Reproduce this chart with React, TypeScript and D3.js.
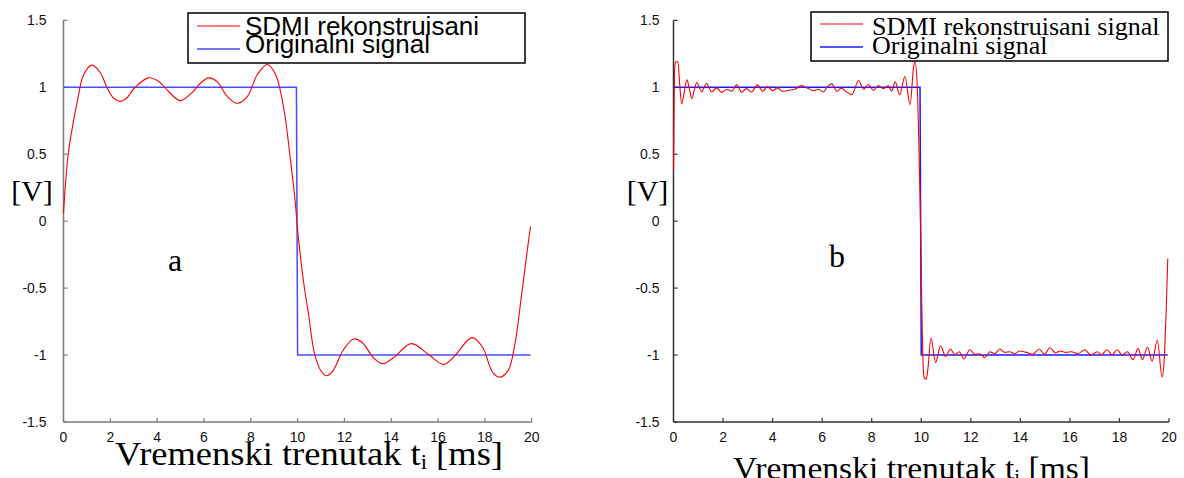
import React from "react";
import * as d3 from "d3";

// ---- data -------------------------------------------------------------
const xTicks = [0, 2, 4, 6, 8, 10, 12, 14, 16, 18, 20];
const yTicks = [-1.5, -1, -0.5, 0, 0.5, 1, 1.5];

// ideal square wave (time in ms, amplitude in V)
const originalSignal: [number, number][] = [
  [0, 1], [9.95, 1], [10, -1], [19.95, -1],
];

// panel a: reconstruction with few coefficients
const reconstructedA: [number, number][] = [
  [0, 0.06], [0.2, 0.5], [0.42, 0.74], [0.63, 0.93], [0.85, 1.09], [1.21, 1.165],
  [1.57, 1.11], [1.85, 1.0], [2.13, 0.92], [2.42, 0.895], [2.7, 0.92], [3.06, 1.0],
  [3.63, 1.07], [4.06, 1.045], [4.42, 0.98], [4.99, 0.9], [5.49, 0.96], [5.85, 1.03],
  [6.21, 1.07], [6.57, 1.04], [7.0, 0.93], [7.43, 0.88], [7.85, 0.93], [8.28, 1.095],
  [8.71, 1.17], [9.06, 1.095], [9.42, 0.83], [9.68, 0.48], [9.89, 0.16], [10.0, -0.065],
  [10.26, -0.46], [10.48, -0.71], [10.71, -0.98], [10.97, -1.11], [11.23, -1.155],
  [11.5, -1.12], [11.96, -0.96], [12.4, -0.88], [12.78, -0.91], [13.24, -1.02],
  [13.63, -1.065], [14.1, -1.02], [14.86, -0.915], [15.62, -1.0], [16.23, -1.07],
  [16.69, -1.01], [17.45, -0.87], [17.9, -0.94], [18.3, -1.12], [18.6, -1.165],
  [18.98, -1.12], [19.29, -0.91], [19.56, -0.56], [19.87, -0.14], [19.95, -0.04],
];

// panel b: reconstruction with many coefficients
const reconstructedB: [number, number][] = [
  [0, 0.38], [0.04, 1.1], [0.08, 1.19], [0.18, 1.19], [0.24, 1.05], [0.33, 0.875],
  [0.43, 0.96], [0.54, 1.055], [0.64, 0.99], [0.74, 0.915], [0.84, 0.98], [0.94, 1.035],
  [1.04, 1.0], [1.14, 0.965], [1.24, 1.0], [1.34, 1.03], [1.44, 0.995], [1.54, 0.965],
  [1.74, 0.995], [1.94, 0.962], [2.15, 0.985], [2.35, 0.97], [2.55, 1.018], [2.75, 0.962],
  [2.95, 0.99], [3.15, 0.965], [3.39, 1.018], [3.6, 0.97], [3.8, 1.005], [4.0, 0.975],
  [4.2, 0.995], [4.4, 0.97], [4.65, 0.977], [4.9, 0.985], [5.17, 1.012], [5.44, 0.99],
  [5.64, 0.975], [5.85, 0.985], [6.05, 0.965], [6.18, 0.995], [6.39, 1.025], [6.59, 0.97],
  [6.78, 0.995], [6.95, 0.97], [7.2, 0.945], [7.47, 1.05], [7.67, 0.985], [7.87, 1.02],
  [8.07, 0.977], [8.27, 1.012], [8.47, 0.99], [8.67, 1.012], [8.8, 0.97], [8.95, 1.04],
  [9.13, 0.945], [9.34, 1.08], [9.55, 0.87], [9.69, 1.15], [9.75, 1.19], [9.84, 1.0],
  [9.9, 0.6], [9.96, 0.1], [10.02, -0.6], [10.08, -1.1], [10.12, -1.17], [10.2, -1.18],
  [10.27, -1.1], [10.39, -0.873], [10.58, -1.055], [10.78, -0.93], [10.98, -1.01],
  [11.18, -0.955], [11.36, -0.998], [11.53, -0.975], [11.72, -1.03], [11.96, -0.96],
  [12.16, -0.995], [12.36, -0.99], [12.56, -1.02], [12.77, -0.975], [12.97, -0.99],
  [13.17, -0.955], [13.37, -0.98], [13.57, -0.975], [13.77, -0.99], [13.97, -0.97],
  [14.24, -0.98], [14.5, -0.995], [14.77, -0.955], [14.97, -0.995], [15.2, -0.945],
  [15.42, -0.985], [15.6, -0.97], [15.84, -0.98], [16.06, -0.975], [16.33, -0.99],
  [16.6, -0.96], [16.84, -1.0], [17.11, -0.975], [17.27, -1.0], [17.5, -0.96],
  [17.7, -1.0], [17.91, -0.96], [18.1, -1.0], [18.32, -0.975], [18.55, -1.035],
  [18.75, -0.95], [18.93, -1.035], [19.13, -0.94], [19.32, -1.045], [19.53, -0.89],
  [19.72, -1.165], [19.8, -1.05], [19.88, -0.7], [19.95, -0.28],
];

const legendLabelsA = ["SDMI rekonstruisani", "Originalni signal"];
const legendLabelsB = ["SDMI rekonstruisani signal", "Originalni signal"];

// ---- layout -----------------------------------------------------------
const W = 1184;
const H = 478;
const SANS = "'Liberation Sans', Arial, Helvetica, sans-serif";
const SERIF = "'Liberation Serif', 'Times New Roman', Times, serif";

type PanelProps = {
  xRange: [number, number];
  yRange: [number, number];
  recon: [number, number][];
  reconCurve: d3.CurveFactory;
  axisColor: string;
  blue: string;
  yLabelOffset: number;
  legend: { x0: number; y0: number; x1: number; y1: number; font: string; labels: string[]; textX: number; base: [number, number]; lineY: [number, number] };
  vLabel: { x: number; y: number };
  letter: { text: string; x: number; y: number; size: number };
  title: { x: number; y: number; size: number; length: number };
};

function Panel(p: PanelProps) {
  const x = d3.scaleLinear().domain([0, 20]).range(p.xRange);
  const y = d3.scaleLinear().domain([-1.5, 1.5]).range(p.yRange);
  const line = d3.line<[number, number]>().x((d) => x(d[0])).y((d) => y(d[1]));
  const reconPath = d3
    .line<[number, number]>()
    .x((d) => x(d[0]))
    .y((d) => y(d[1]))
    .curve(p.reconCurve)(p.recon) as string;
  const x0 = x(0);
  const yb = y(-1.5);
  const lg = p.legend;
  const lineX0 = lg.x0 + 9;
  const lineX1 = lg.x0 + 52;
  return (
    <g>
      {/* axes */}
      <line x1={x0} x2={x0} y1={y(1.5)} y2={yb} stroke={p.axisColor} strokeWidth={1.5} />
      <line x1={x0} x2={x(20)} y1={yb} y2={yb} stroke={p.axisColor} strokeWidth={1.5} />
      {yTicks.map((t) => (
        <g key={"y" + t}>
          <line x1={x0} x2={x0 + 4} y1={y(t)} y2={y(t)} stroke={p.axisColor} strokeWidth={1.2} />
          <text x={x0 - p.yLabelOffset} y={y(t)} dy="0.35em" textAnchor="end" fontFamily={SANS} fontSize={14} fill="#111">
            {String(t)}
          </text>
        </g>
      ))}
      {xTicks.map((t) => (
        <g key={"x" + t}>
          <line x1={x(t)} x2={x(t)} y1={yb} y2={yb - 4} stroke={p.axisColor} strokeWidth={1.2} />
          <text x={x(t)} y={yb + 15} dy="0.35em" textAnchor="middle" fontFamily={SANS} fontSize={14} fill="#111">
            {String(t)}
          </text>
        </g>
      ))}

      {/* signals */}
      <path d={line(originalSignal) as string} fill="none" stroke={p.blue} strokeWidth={1.5} />
      <path d={reconPath} fill="none" stroke="#ff0000" strokeWidth={1.1} />

      {/* legend */}
      <rect x={lg.x0} y={lg.y0} width={lg.x1 - lg.x0} height={lg.y1 - lg.y0} fill="#fff" stroke="#000" strokeWidth={1.5} />
      <line x1={lineX0} x2={lineX1} y1={lg.lineY[0]} y2={lg.lineY[0]} stroke="#ff0000" strokeWidth={1.1} />
      <line x1={lineX0} x2={lineX1} y1={lg.lineY[1]} y2={lg.lineY[1]} stroke={p.blue} strokeWidth={1.5} />
      <text x={lg.textX} y={lg.base[0]} fontFamily={lg.font} fontSize={26} fill="#000">{lg.labels[0]}</text>
      <text x={lg.textX} y={lg.base[1]} fontFamily={lg.font} fontSize={26} fill="#000">{lg.labels[1]}</text>

      {/* labels */}
      <text x={p.vLabel.x} y={p.vLabel.y} textAnchor="middle" fontFamily={SERIF} fontSize={30} fill="#000">[V]</text>
      <text x={p.letter.x} y={p.letter.y} textAnchor="middle" fontFamily={SERIF} fontSize={p.letter.size} fill="#000">{p.letter.text}</text>
      <text
        x={p.title.x}
        y={p.title.y}
        fontFamily={SERIF}
        fontSize={p.title.size}
        fill="#000"
        textLength={p.title.length}
        lengthAdjust="spacingAndGlyphs"
      >
        Vremenski trenutak t<tspan fontSize="0.62em" dy="4">i</tspan><tspan dy="-4"> [ms]</tspan>
      </text>
    </g>
  );
}

export default function App() {
  return (
    <svg width={W} height={H} viewBox={`0 0 ${W} ${H}`} style={{ position: "absolute", left: 0, top: 0, background: "#fff" }}>
      <rect width={W} height={H} fill="#fff" />
      <Panel
        xRange={[63.5, 531.7]}
        yRange={[422, 20.3]}
        recon={reconstructedA}
        reconCurve={d3.curveCatmullRom}
        axisColor="#7a7a7a"
        blue="#4a4aff"
        yLabelOffset={17}
        legend={{ x0: 188, y0: 13, x1: 525, y1: 63, font: SANS, labels: legendLabelsA, textX: 245, base: [35, 53], lineY: [26, 49] }}
        vLabel={{ x: 32, y: 201 }}
        letter={{ text: "a", x: 175, y: 271, size: 32 }}
        title={{ x: 115, y: 465, size: 33, length: 388 }}
      />
      <Panel
        xRange={[673.5, 1169]}
        yRange={[422, 20.3]}
        recon={reconstructedB}
        reconCurve={d3.curveMonotoneX}
        axisColor="#333"
        blue="#1a1aff"
        yLabelOffset={14}
        legend={{ x0: 811, y0: 12, x1: 1168, y1: 61, font: SERIF, labels: legendLabelsB, textX: 872, base: [35, 54], lineY: [24, 47] }}
        vLabel={{ x: 647.5, y: 201 }}
        letter={{ text: "b", x: 837, y: 267, size: 32 }}
        title={{ x: 733, y: 479, size: 31, length: 357 }}
      />
    </svg>
  );
}
